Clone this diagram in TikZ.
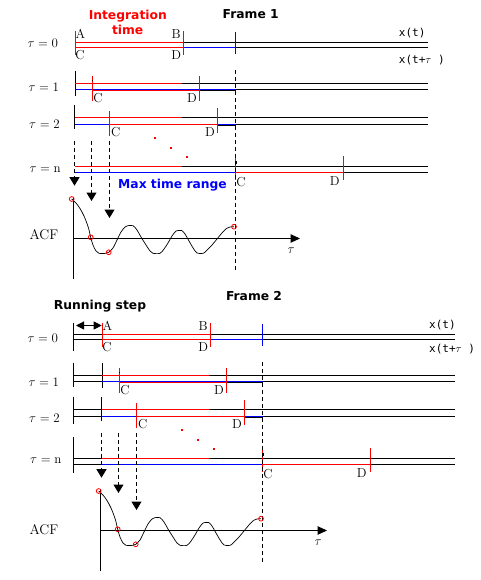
\RequirePackage{fix-cm}
\documentclass[tikz,border=0pt]{standalone}
\usepackage{fontspec}
\newfontfamily\bsans{DejaVu Sans}
\newfontfamily\msans{DejaVu Sans Mono}
\usetikzlibrary{arrows.meta}

\tikzset{
  ln/.style={line width=1pt},
  rl/.style={ln,draw=red},
  bll/.style={ln,draw=blue},
  kl/.style={ln,draw=black},
  dsh/.style={ln,dash pattern=on 4pt off 3pt},
  darr/.style={dsh,-{Triangle[width=10pt,length=8.5pt]}},
  axisarr/.style={ln,-{Triangle[width=8.5pt,length=9.5pt]}},
  pt/.style={font=\fontsize{13}{13}\selectfont,inner sep=0pt},
  tlab/.style={font=\fontsize{13}{13}\selectfont,inner sep=0pt,anchor=base west},
  acf/.style={font=\fontsize{14}{14}\selectfont,inner sep=0pt,anchor=base west},
  xl/.style={font=\msans\fontsize{11}{11}\selectfont,inner sep=0pt,anchor=west},
  ttl/.style={font=\bsans\bfseries\fontsize{12.3}{12.3}\selectfont,inner sep=0pt,anchor=base},
  mk/.style={draw=red,line width=0.8pt},
  crv/.style={line width=0.7pt},
  dotm/.style={fill=red},
}

\newcommand\frameshared[1]{%
  % ---- tau = 0
  \draw[kl] (183.5,42.5) -- (428,42.5);
  \draw[rl] (75,42.5) -- (183.5,42.5);
  \draw[kl] (235.5,47.5) -- (428,47.5);
  \draw[bll] (183.5,47.5) -- (235.5,47.5);
  \draw[rl] (75,47.5) -- (183.5,47.5);
  \draw[rl] (75.5,31) -- (75.5,55);
  \draw[rl] (183.5,31) -- (183.5,55);
  \draw[bll] (235.5,32) -- (235.5,54);
  \node[pt] (#1A0) at (80.5,34.2) {A};
  \node[pt] (#1C0) at (80,55) {C};
  \node[pt] (#1B0) at (176.2,34.2) {B};
  \node[pt] (#1D0) at (176.2,55) {D};
  % ---- tau = 1
  \draw[kl] (75.5,71) -- (75.5,96);
  \draw[kl] (75,83.5) -- (428,83.5);
  \draw[rl] (75,83.5) -- (182,83.5);
  \draw[kl] (75,89.5) -- (428,89.5);
  \draw[bll] (75,89.5) -- (235.5,89.5);
  \draw[rl] (92.5,90.5) -- (199.5,90.5);
  \draw[kl] (199.5,90.5) -- (235.5,90.5);
  \draw[rl] (92.5,76) -- (92.5,101);
  \draw[rl] (199.5,76) -- (199.5,101);
  \fill (92,80) rectangle (93.2,81.2);
  \node[pt] (#1C1) at (98,97.8) {C};
  \node[pt] (#1D1) at (192,97.8) {D};
  % ---- tau = 2
  \draw[kl] (74.5,105) -- (74.5,129);
  \draw[kl] (75,117.5) -- (428,117.5);
  \draw[rl] (75,117.5) -- (182,117.5);
  \draw[kl] (75,124.5) -- (428,124.5);
  \draw[kl] (217.5,125.5) -- (235.5,125.5);
  \draw[bll] (75,124.5) -- (109.5,124.5);
  \draw[bll] (217.5,124.5) -- (235.5,124.5);
  \draw[rl] (109.5,124.5) -- (217.5,124.5);
  \draw[rl] (109.5,111) -- (109.5,136);
  \draw[rl] (217.5,108) -- (217.5,133);
  \node[pt] (#1C2) at (115.8,132.5) {C};
  \node[pt] (#1D2) at (210,132.5) {D};
  % dots
  \fill[dotm] (154,137) rectangle (156,139);
  \fill[dotm] (170,147) rectangle (172,149);
  \fill[dotm] (186,156) rectangle (188,158);
  % ---- tau = n
  \draw[kl] (75,166.5) -- (428,166.5);
  \draw[rl] (75,166.5) -- (182,166.5);
  \draw[kl] (75,172.5) -- (428,172.5);
  \draw[bll] (75,172.5) -- (235.5,172.5);
  \draw[rl] (235.5,172.5) -- (343.5,172.5);
  \draw[rl] (235.5,156) -- (235.5,180);
  \draw[rl] (343.5,156) -- (343.5,180);
  \node[pt] (#1Cn) at (241,181.7) {C};
  \node[pt] (#1Dn) at (334.7,181.5) {D};
  % ---- dashed guide
  \coordinate (#1gt) at (235.5,70);
  \coordinate (#1gb) at (235.5,271);
  \draw[dsh] (#1gt) -- (#1gb);
  \draw[kl] (236.5,161) -- (236.5,164);
  % ---- dashed arrows
  \coordinate (#1s1) at (74.5,141);  \coordinate (#1e1) at (74.5,185.7);
  \coordinate (#1s2) at (91.5,141);  \coordinate (#1e2) at (91.5,201);
  \coordinate (#1s3) at (109.5,141); \coordinate (#1e3) at (109.5,218);
  \draw[darr] (#1s1) -- (#1e1);
  \draw[darr] (#1s2) -- (#1e2);
  \draw[darr] (#1s3) -- (#1e3);
  % ---- ACF axes
  \coordinate (#1o) at (73.5,238.5);
  \coordinate (#1vt) at (73.5,197);
  \coordinate (#1vb) at (73.5,279);
  \coordinate (#1ht) at (300,238.5);
  \draw[kl] (#1vt) -- (#1vb);
  \draw[axisarr] (#1o) -- (#1ht);
  \node[pt,font=\fontsize{13}{13}\selectfont] (#1tau) at (291,250.5) {$\tau$};
  % ---- ACF curve
  \draw[crv] plot[smooth,tension=0.5] coordinates {
    (71.7,199) (76,203) (80,208.5) (84,216) (88.3,227.3) (90.7,237.3) (93,245)
    (96,251) (99,253.3) (106,253.3) (108.7,252.3) (113,248) (117,240) (121,232)
    (125,227) (127.7,225.7) (133,225.7) (137,230) (141,237) (146,245) (150,251)
    (153,253.3) (160,253.3) (164,249) (168,243) (172,236) (176,231) (178.3,230.5)
    (181.7,230.5) (185,234) (189,241) (193.3,248.3) (197,253) (203.3,253.3)
    (207,250) (212,245) (217,239) (221.7,233.3) (226.7,228.3) (230,227) (234,226.7)};
  \draw[mk] (71.7,199) circle (2.4pt);
  \draw[mk] (90.7,237.3) circle (2.4pt);
  \draw[mk] (108.7,252.3) circle (2.4pt);
  \draw[mk] (234,226.7) circle (2.4pt);
}

\begin{document}
\begin{tikzpicture}[x=1pt,y=-1pt]
\useasboundingbox (0,0) rectangle (480,580);
\fill[white] (0,0) rectangle (480,580);

% ================= Frame 1
\frameshared{fa}
\node[ttl,red] (integ1) at (127.8,20) {Integration};
\node[ttl,red] (integ2) at (127.7,35) {time};
\node[ttl] (frame1) at (250.7,18.3) {Frame 1};
\node[ttl,blue] (maxtr) at (172.5,188.3) {Max time range};
\node[xl] (faxt) at (398.7,33.3) {x(t)};
\node[xl] (faxtt) at (398.7,60) {x(t+$\tau$ )};
\node[tlab] (fat0) at (27.3,47.7) {$\tau=0$};
\node[tlab] (fat1) at (28.3,91.7) {$\tau=1$};
\node[tlab] (fat2) at (29,128.3) {$\tau=2$};
\node[tlab] (fatn) at (29.3,172.3) {$\tau=\mathrm{n}$};
\node[acf] (faacf) at (29.3,239) {ACF};

% ================= Frame 2
\begin{scope}[shift={(27,292)}]
\frameshared{fb}
\end{scope}
% leading black parts and left ticks
\draw[kl] (73.5,334.5) -- (102,334.5);
\draw[kl] (73.5,339.5) -- (102,339.5);
\draw[kl] (73.5,322.7) -- (73.5,351);
\draw[kl] (73.5,375.5) -- (102,375.5);
\draw[kl] (73.5,381.5) -- (102,381.5);
\draw[kl] (73.5,362.7) -- (73.5,387.3);
\draw[kl] (73.5,409.5) -- (102,409.5);
\draw[kl] (73.5,416.5) -- (102,416.5);
\draw[kl] (73.5,396.7) -- (73.5,424);
\draw[kl] (73.5,458.5) -- (102,458.5);
\draw[kl] (73.5,464.5) -- (102,464.5);
\draw[kl] (73.5,437) -- (73.5,473);
% running step
\coordinate (rsl) at (76,325.5);
\coordinate (rsr) at (101.7,325.5);
\draw[ln,{Triangle[width=8pt,length=8pt]}-{Triangle[width=8pt,length=8pt]}] (rsl) -- (rsr);
\node[ttl] (runstep) at (100,309.3) {Running step};
\node[ttl] (frame2) at (254,300) {Frame 2};
\node[xl] (fbxt) at (429,325) {x(t)};
\node[xl] (fbxtt) at (429,349.5) {x(t+$\tau$ )};
\node[tlab] (fbt0) at (27.3,342.7) {$\tau=0$};
\node[tlab] (fbt1) at (28.3,386) {$\tau=1$};
\node[tlab] (fbt2) at (29,422.7) {$\tau=2$};
\node[tlab] (fbtn) at (30,463.3) {$\tau=\mathrm{n}$};
\node[acf] (fbacf) at (29.3,534) {ACF};
\end{tikzpicture}
\end{document}
